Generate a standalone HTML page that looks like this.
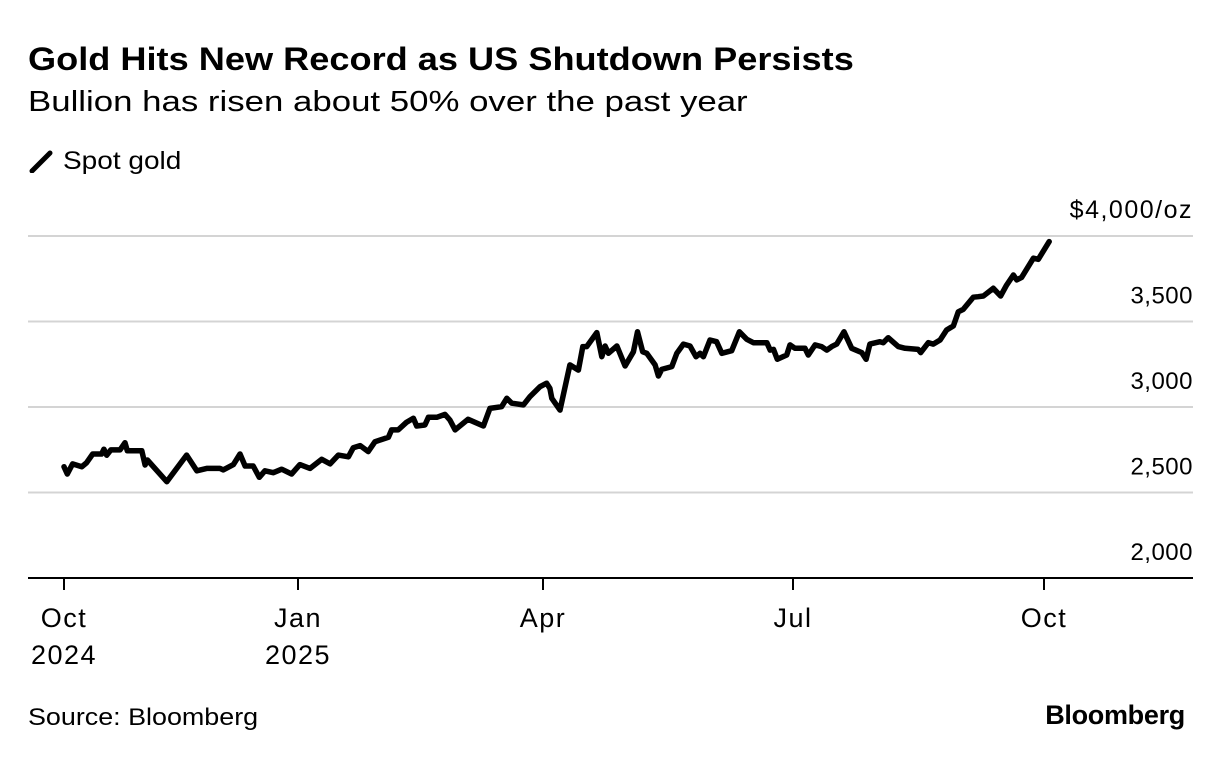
<!DOCTYPE html>
<html><head><meta charset="utf-8"><style>
body{margin:0;background:#fff;width:1223px;height:760px;overflow:hidden;font-family:"Liberation Sans",sans-serif;color:#000}
.t{position:absolute;white-space:nowrap;transform-origin:left top}
</style></head><body>
<div class="t" style="left:28px;top:41px;font-size:32px;font-weight:bold;transform:scaleX(1.13)">Gold Hits New Record as US Shutdown Persists</div>
<div class="t" style="left:28px;top:86px;font-size:29px;transform:scaleX(1.2)">Bullion has risen about 50% over the past year</div>
<div class="t" style="left:28px;top:147px;font-size:25px"><svg width="28" height="24" style="vertical-align:-4px"><line x1="4" y1="22" x2="22" y2="4" stroke="#000" stroke-width="5" stroke-linecap="round"/></svg> <span style="display:inline-block;transform:scaleX(1.12);transform-origin:left">Spot gold</span></div>
<svg id="c" width="1223" height="760" style="position:absolute;left:0;top:0"></svg>
<div class="t" style="left:28px;top:704px;font-size:24px;transform:scaleX(1.12)">Source: Bloomberg</div>
<div class="t" style="right:38px;top:700px;font-size:27px;font-weight:bold;letter-spacing:-0.3px">Bloomberg</div>
<script>
const days=[0,1.3,3.4,7,8.9,11.3,14.8,15.7,16.8,18.4,22,24,24.9,30.6,31.9,32.8,40.4,48.2,52.2,56.1,61.3,62.6,66.6,69.2,71.2,74.4,76.8,79,82.3,85.6,89.5,92.7,96.4,100.7,103.8,106.8,110.5,112.3,114.8,117.8,120.3,125.2,126.4,128.8,131.9,134.4,135.6,138.6,139.9,143,146,147.8,149.7,154.5,160.1,162.5,166.8,168.7,170.5,174.8,177.2,180.9,183.3,184.5,185.2,188.2,191.8,194.9,196.5,197.9,201.6,203.4,204.6,205.8,208.9,211.9,214.9,216.4,218.3,219.8,222.8,224,225.2,228.9,230.7,233.1,235.5,237.7,239.2,240.4,242.8,245.2,247.1,250.7,253.5,256.2,258.6,263.5,264.7,265.9,267.3,270.7,271.9,273.7,277.4,278.6,281.1,283.5,285.4,287.2,289,291.7,294.5,298.2,299.8,301.2,304.9,306.1,307.9,311.6,314.1,318.9,319.8,322.6,324.4,326.9,329.3,331.8,333.6,335.4,339.1,340.9,342.8,346.4,349.1,351.3,353.8,355,356.8,361.1,362.9,366.9];
const prices=[2651,2608,2667,2651,2674,2725,2725,2753,2718,2749,2749,2791,2744,2744,2661,2690,2563,2719,2627,2641,2641,2632,2663,2725,2655,2655,2589,2627,2616,2636,2608,2663,2641,2694,2667,2719,2709,2762,2774,2739,2797,2823,2866,2866,2911,2934,2889,2895,2940,2940,2957,2924,2866,2928,2889,2992,3002,3051,3022,3012,3060,3119,3139,3109,3051,2982,3246,3216,3353,3353,3435,3294,3357,3314,3357,3240,3323,3440,3323,3314,3246,3181,3220,3236,3314,3368,3357,3294,3314,3294,3392,3382,3314,3329,3440,3396,3376,3376,3333,3337,3279,3304,3363,3343,3343,3304,3363,3353,3333,3353,3368,3440,3343,3318,3279,3368,3382,3376,3405,3353,3343,3337,3318,3376,3368,3392,3450,3474,3557,3571,3642,3645,3649,3694,3649,3713,3772,3743,3758,3870,3864,3967];
const yTicks=[2000,2500,3000,3500,4000];
const yTickLabels=["2,000","2,500","3,000","3,500","$4,000/oz"];
const xTickDays=[0,92,182,273,365];
const xTickLabels=[["Oct","2024"],["Jan","2025"],["Apr",""],["Jul",""],["Oct",""]];
const xTickPx=[64,298,543,793,1044];
function xs(d){for(let i=0;i<xTickDays.length-1;i++){if(d<=xTickDays[i+1]||i==xTickDays.length-2){const a=xTickDays[i],b=xTickDays[i+1];return xTickPx[i]+(d-a)/(b-a)*(xTickPx[i+1]-xTickPx[i]);}}}
function ys(v){return 578-(v-2000)*(342/2000);}
const svg=document.getElementById('c');const NS='http://www.w3.org/2000/svg';
function mk(t,a){const e=document.createElementNS(NS,t);for(const k in a)e.setAttribute(k,a[k]);svg.appendChild(e);return e;}
yTicks.forEach((v,i)=>{
 if(i>0){const g=mk('line',{x1:28,x2:1193,y1:ys(v),y2:ys(v),stroke:'#d4d4d4','stroke-width':2});
 
 }
 const t=mk('text',{x:1193,y:ys(v)-18,'text-anchor':'end','font-size':i==4?25:24,'letter-spacing':i==4?1.5:0.5,'font-family':'Liberation Sans, sans-serif'});
 t.textContent=yTickLabels[i];
 
 
});
const ax=mk('line',{x1:28,x2:1193,y1:578,y2:578,stroke:'#000','stroke-width':2});


xTickDays.forEach((d,i)=>{
 const x=xs(d);
 const tk=mk('line',{x1:x,x2:x,y1:578,y2:590,stroke:'#000','stroke-width':2});
 
 
 xTickLabels[i].forEach((s,j)=>{if(!s)return;
  const t=mk('text',{x:x,y:627+j*37,'text-anchor':'middle','font-size':27,'letter-spacing':1.5,'font-family':'Liberation Sans, sans-serif'});
  t.textContent=s;
  
  
 });
});
const p=mk('polyline',{points:days.map((d,i)=>xs(d).toFixed(1)+','+ys(prices[i]).toFixed(1)).join(' '),fill:'none',stroke:'#000','stroke-width':5.5,'stroke-linejoin':'round','stroke-linecap':'round'});


</script>
</body></html>
